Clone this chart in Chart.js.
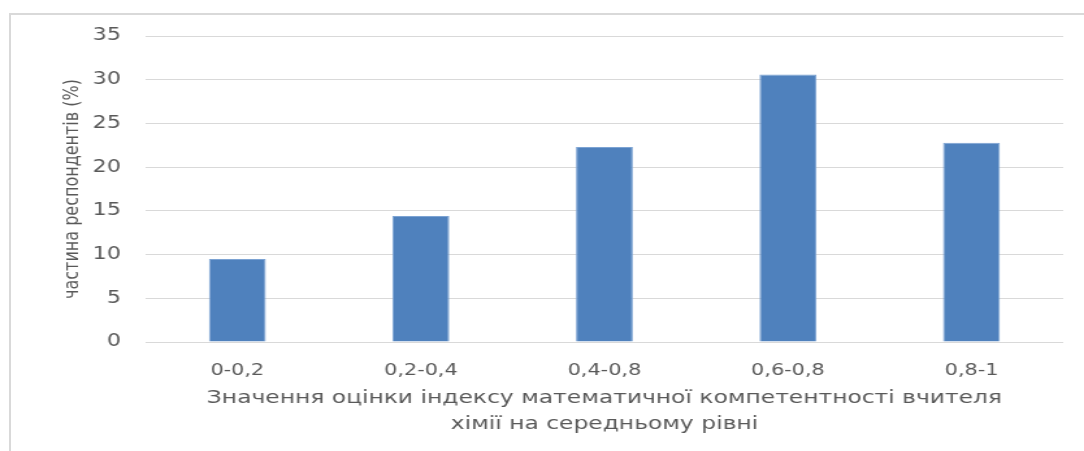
<!DOCTYPE html>
<html lang="uk">
<head>
<meta charset="utf-8">
<title>Індекс математичної компетентності</title>
<script src="https://cdn.jsdelivr.net/npm/chart.js@4"></script>
<style>
    html, body { margin: 0; padding: 0; background: #fff; }
    body { width: 1084px; height: 451px; overflow: hidden; position: relative; }
    /* рамка області діаграми */
    .frame {
        position: absolute; left: 9px; top: 13px; right: 0; bottom: 0;
        border-top: 2px solid #d9d9d9; border-left: 2px solid #d9d9d9;
    }
    /* полотно розтягнуте по горизонталі */
    .stretch {
        position: absolute; left: 0; top: 0; width: 834px; height: 451px;
        transform: scaleX(1.2998); transform-origin: 0 0;
    }
</style>
</head>
<body>
<div class="frame"></div>
<div class="stretch"><canvas id="indexChart"></canvas></div>
<script>
// дані діаграми
const categories = ['0-0,2', '0,2-0,4', '0,4-0,8', '0,6-0,8', '0,8-1'];
const shares = [9.5, 14.4, 22.3, 30.6, 22.8];
const yMin = 0;
const yMax = 35;
const yStep = 5;
const xTitle = ['Значення оцінки індексу математичної компетентності вчителя', 'хімії на середньому рівні'];
const yTitle = 'частина респондентів (%)';

const textColor = '#595959';
const gridColor = '#d9d9d9';
const fontFamily = '"DejaVu Sans", sans-serif';

function drawChart() {
    const ctx = document.getElementById('indexChart').getContext('2d');

    window.indexChart = new Chart(ctx, {
        type: 'bar',
        data: {
            labels: categories,
            datasets: [{
                data: shares,
                backgroundColor: '#4f81bd',
                borderColor: '#7ca3d3',
                borderWidth: 1,
                barPercentage: 0.31,
                categoryPercentage: 1
            }]
        },
        options: {
            responsive: true,
            maintainAspectRatio: false,
            animation: false,
            layout: {
                padding: { top: 36, right: 16, left: 0, bottom: 0 }
            },
            plugins: {
                legend: { display: false },
                tooltip: { enabled: false }
            },
            scales: {
                x: {
                    grid: { display: false },
                    border: { display: false },
                    ticks: {
                        color: textColor,
                        padding: 11,
                        font: { family: fontFamily, size: 16 }
                    },
                    title: {
                        display: true,
                        text: xTitle,
                        color: textColor,
                        padding: { top: 0, bottom: 14 },
                        font: { family: fontFamily, size: 18, lineHeight: 1.42 }
                    },
                    afterFit: function (scale) {
                        scale.height = 109;
                    }
                },
                y: {
                    min: yMin,
                    max: yMax,
                    grid: { color: gridColor, lineWidth: 1, drawTicks: false },
                    border: { display: false },
                    ticks: {
                        stepSize: yStep,
                        color: textColor,
                        padding: 19,
                        font: { family: fontFamily, size: 17 }
                    },
                    title: {
                        display: true,
                        text: yTitle,
                        color: textColor,
                        padding: { top: 46, bottom: 0 },
                        font: { family: fontFamily, size: 16 }
                    },
                    afterFit: function (scale) {
                        scale.width = 112;
                    }
                }
            }
        }
    });
}

drawChart();
</script>
</body>
</html>
